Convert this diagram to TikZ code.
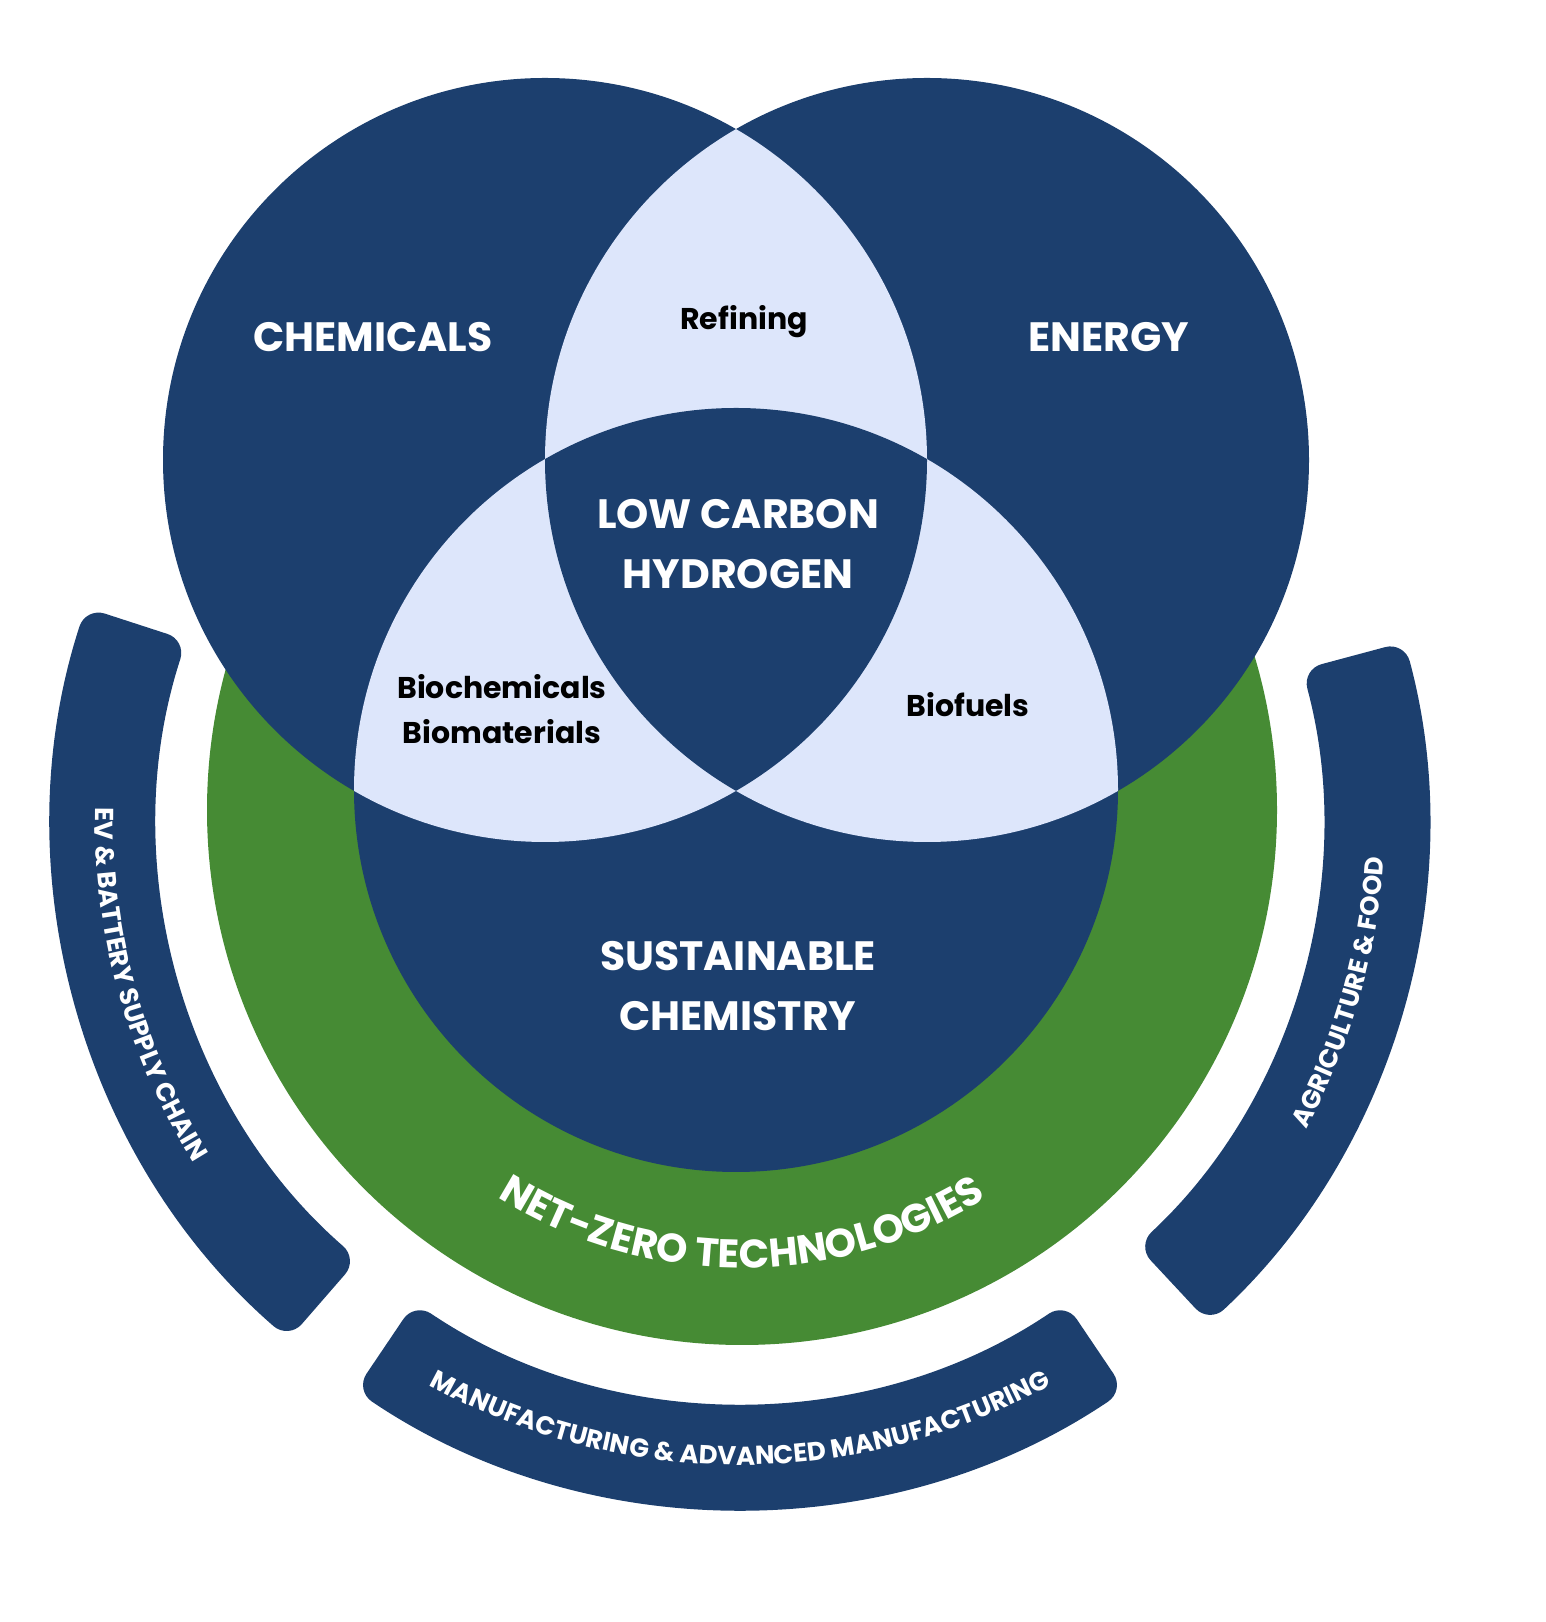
\documentclass[tikz,border=0pt]{standalone}
\usepackage{fontspec}
\setmainfont{Poppins}
\usetikzlibrary{decorations.text,calc}
\definecolor{navy}{HTML}{1C3F6E}
\definecolor{pale}{HTML}{DDE6FB}
\definecolor{grn}{HTML}{468B34}
\begin{document}
\begin{tikzpicture}[x=1pt,y=1pt,
  big/.style={text=white,font=\fontsize{41}{41}\selectfont\bfseries,align=center},
  small/.style={text=black,font=\fontsize{30}{45}\selectfont\bfseries,align=center},
  ring/.style={fill=navy,rounded corners=20pt}]
\useasboundingbox (0,0) rectangle (1545,1622);
\coordinate (A) at (545,1162);
\coordinate (B) at (927,1162);
\coordinate (C) at (736,832);
\coordinate (G) at (742,812);
\coordinate (R) at (740,802);
% rings
\fill[ring] ($(R)+(162:688)$) arc[start angle=162,end angle=229,radius=688] -- ($(R)+(229:582)$) arc[start angle=229,end angle=162,radius=582] -- cycle;
\fill[ring] ($(R)+(236:688)$) arc[start angle=236,end angle=304,radius=688] -- ($(R)+(304:582)$) arc[start angle=304,end angle=236,radius=582] -- cycle;
\fill[ring] ($(R)+(-47:688)$) arc[start angle=-47,end angle=15,radius=688] -- ($(R)+(15:582)$) arc[start angle=15,end angle=-47,radius=582] -- cycle;
% green
\fill[grn] (G) circle[radius=535];
% circles
\fill[navy] (A) circle[radius=382] (B) circle[radius=382] (C) circle[radius=382];
\begin{scope}\clip (A) circle[radius=382]; \fill[pale] (B) circle[radius=382]; \fill[pale] (C) circle[radius=382];\end{scope}
\begin{scope}\clip (B) circle[radius=382]; \fill[pale] (C) circle[radius=382];\end{scope}
\begin{scope}\clip (A) circle[radius=382]; \clip (B) circle[radius=382]; \fill[navy] (C) circle[radius=382];\end{scope}
% labels
\node[big] (chem) at (373,1285) {CHEMICALS};
\node[big] (en) at (1109,1285) {ENERGY};
\node[small] (ref) at (744,1300) {Refining};
\node[big,font=\fontsize{41}{60}\selectfont\bfseries] (h2) at (738,1078) {LOW CARBON\\HYDROGEN};
\node[small] (bio) at (502,913) {Biochemicals\\Biomaterials};
\node[small] (bf) at (968,917) {Biofuels};
\node[big,font=\fontsize{41}{60}\selectfont\bfseries] (sc) at (738,636) {SUSTAINABLE\\CHEMISTRY};
% curved texts
\begin{scope}[overlay]
\path[decorate,decoration={text along path,text align=center,text color=white,
  text={|\fontsize{40}{40}\selectfont\bfseries|NET-ZERO TECHNOLOGIES}}]
  ($(G)+(208:458)$) arc[start angle=208,end angle=332,radius=458];
\path[decorate,decoration={text along path,text align=center,text color=white,
  text={|\fontsize{26}{26}\selectfont\bfseries|MANUFACTURING {\&} ADVANCED MANUFACTURING}}]
  ($(R)+(236:645)$) arc[start angle=236,end angle=304,radius=645];
\path[decorate,decoration={text along path,text align=center,text color=white,
  text={|\fontsize{26}{26}\selectfont\bfseries|EV {\&} BATTERY SUPPLY CHAIN}}]
  ($(R)+(162:645)$) arc[start angle=162,end angle=229,radius=645];
\path[decorate,decoration={text along path,text align=center,text color=white,
  text={|\fontsize{26}{26}\selectfont\bfseries|AGRICULTURE {\&} FOOD}}]
  ($(R)+(-47:645)$) arc[start angle=-47,end angle=15,radius=645];
\end{scope}
\end{tikzpicture}
\end{document}
